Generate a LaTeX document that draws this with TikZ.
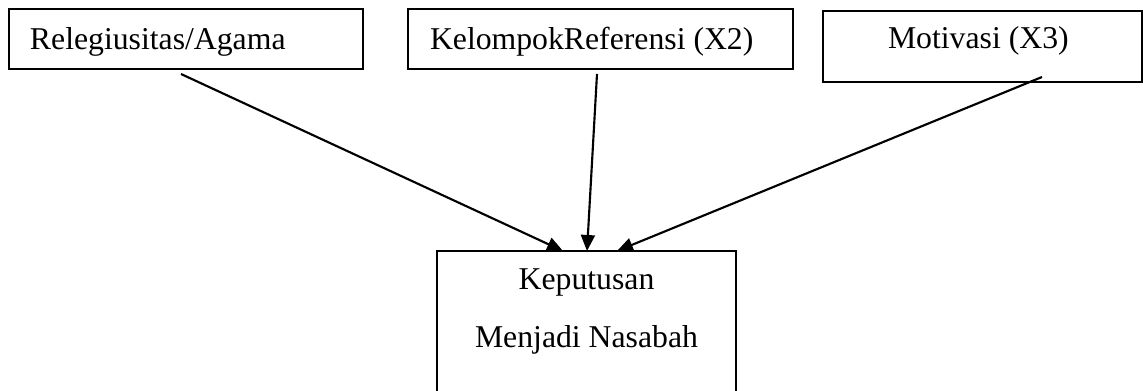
\documentclass[tikz,border=0pt]{standalone}
\usepackage{fontspec}
\setmainfont{Liberation Serif}
\usetikzlibrary{arrows.meta}
\begin{document}
\begin{tikzpicture}[x=0.75pt,y=-0.75pt,
  box/.style={draw,line width=1.3pt,rectangle,inner sep=0pt,outer sep=0pt},
  lbl/.style={inner sep=0pt,outer sep=0pt,font=\fontsize{23.8}{28}\selectfont},
  conn/.style={line width=1.6pt,-{Triangle[length=12pt,width=10.5pt]}}]
\useasboundingbox (0,0) rectangle (1143,391);
\clip (0,0) rectangle (1143,391);
\node[box,minimum width=265.5pt,minimum height=45pt] (b1) at (186,39) {};
\node[box,minimum width=288.75pt,minimum height=45pt] (b2) at (600.5,39) {};
\node[box,minimum width=239.25pt,minimum height=53.25pt] (b3) at (982.5,46.5) {};
\node[box,minimum width=224.25pt,minimum height=126.75pt] (b4) at (586.5,335.5) {};
\node[lbl,anchor=base west] (t1) at (30,50) {Relegiusitas/Agama};
\node[lbl,anchor=base west] (t2) at (430,50) {KelompokReferensi (X2)};
\node[lbl,anchor=base west] (t3) at (888,49) {Motivasi (X3)};
\node[lbl,anchor=base] (t4) at (586.5,290) {Keputusan};
\node[lbl,anchor=base] (t5) at (586.5,348) {Menjadi Nasabah};
\coordinate (s1) at (181,74);
\coordinate (s2) at (597,74);
\coordinate (s3) at (1042,77);
\coordinate (e1) at (563,251);
\coordinate (e2) at (587,251);
\coordinate (e3) at (617,251);
\draw[conn] (s1) -- (e1);
\draw[conn] (s2) -- (e2);
\draw[conn] (s3) -- (e3);
\end{tikzpicture}
\end{document}
